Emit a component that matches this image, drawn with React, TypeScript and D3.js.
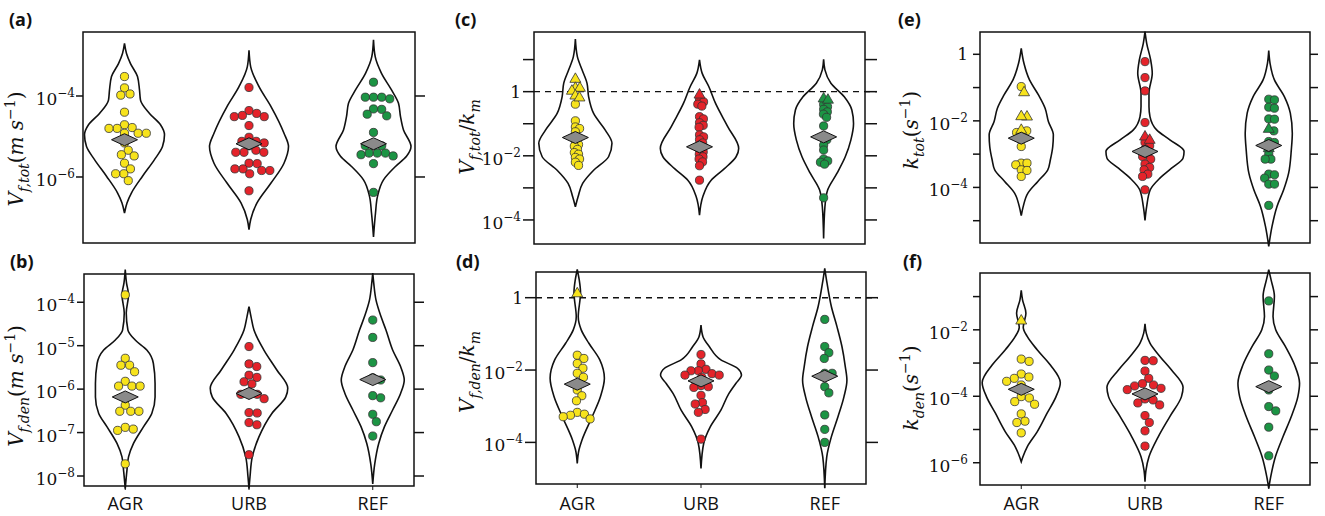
import React from 'react';
import * as d3 from 'd3';

// ---------------- data (all values are log10 of the plotted quantity) ----------------
const categories = ['AGR', 'URB', 'REF'];
const groupColors = ['#f7e31c', '#e4232a', '#1c9444'];

// panel (a) V_f,tot
const aCircles = [
  [-3.52, -3.80, -3.95, -3.98, -4.40, -4.71, -4.78, -4.80, -4.80, -4.92, -4.92, -4.92, -5.16, -5.34, -5.45, -5.48, -5.66, -5.80, -5.92, -5.92, -6.09],
  [-3.79, -4.36, -4.43, -4.48, -4.51, -4.51, -4.73, -5.02, -5.12, -5.12, -5.16, -5.23, -5.34, -5.39, -5.39, -5.39, -5.66, -5.67, -5.80, -5.80, -5.84, -5.84, -5.92, -6.34],
  [-3.66, -4.03, -4.03, -4.03, -4.07, -4.32, -4.33, -4.45, -4.49, -4.90, -5.23, -5.23, -5.23, -5.41, -5.41, -5.41, -5.45, -5.48, -5.67, -6.38],
];
const aTriangles = [[], [], []];
const aCenters = [-5.08, -5.18, -5.18];
const aViolinLevels = [
  [-2.70, -2.95, -3.20, -3.52, -3.85, -4.10, -4.43, -4.71, -4.96, -5.25, -5.57, -5.98, -6.39, -6.64, -6.89],
  [-2.87, -3.28, -3.77, -4.26, -4.92, -5.25, -5.66, -6.15, -6.64, -7.05, -7.30],
  [-2.61, -3.03, -3.44, -3.85, -4.18, -4.51, -4.84, -5.25, -5.49, -5.74, -6.07, -6.48, -6.89, -7.48],
];
const aViolinDensity = [
  [0, 2, 6, 13, 15, 16, 25, 36, 40, 38, 30, 18, 7, 2.5, 0],
  [0, 1.7, 10, 22, 35, 39.5, 35, 22, 8, 1.7, 0],
  [0, 1.7, 8, 18, 25, 27, 30, 37.5, 33, 22, 10, 4, 2, 0],
];

// panel (b) V_f,den
const bCircles = [
  [-3.83, -5.29, -5.45, -5.45, -5.60, -5.82, -5.93, -5.93, -5.93, -6.37, -6.51, -6.51, -6.51, -6.88, -6.92, -6.95, -7.72],
  [-5.02, -5.42, -5.48, -5.68, -5.73, -5.83, -5.88, -6.10, -6.12, -6.12, -6.22, -6.54, -6.55, -6.77, -6.82, -7.51],
  [-4.41, -4.81, -5.39, -5.74, -5.79, -6.15, -6.20, -6.58, -6.75, -7.08],
];
const bTriangles = [[], [], []];
const bCenters = [-6.18, -6.10, -5.78];
const bViolinLevels = [
  [-3.25, -3.56, -3.83, -4.25, -4.64, -4.87, -5.10, -5.41, -5.87, -6.18, -6.56, -6.87, -7.25, -7.56, -7.87, -8.29],
  [-4.10, -4.33, -4.64, -5.10, -5.56, -5.98, -6.18, -6.56, -7.10, -7.56, -8.02, -8.29],
  [-3.33, -3.56, -3.95, -4.33, -4.64, -5.10, -5.48, -5.79, -6.10, -6.48, -6.87, -7.25, -7.72, -8.18],
];
const bViolinDensity = [
  [0, 1.3, 3.3, 1, 2.7, 10, 21.7, 28.3, 30, 30, 26.7, 18.3, 8.3, 3.3, 1.7, 0],
  [0, 2, 5, 15, 28, 39, 37, 23, 10, 3.3, 1, 0],
  [0, 1, 3.3, 8.3, 13.3, 20, 28, 31.7, 28, 20, 11.7, 6, 2, 0],
];

// panel (c) V_f,tot / k_m
const cCircles = [
  [-0.39, -0.91, -1.10, -1.15, -1.25, -1.55, -1.65, -1.70, -1.80, -1.90, -1.95, -2.05, -2.10, -2.20, -2.30],
  [-0.26, -0.32, -0.39, -0.45, -0.78, -0.85, -0.97, -1.05, -1.11, -1.35, -1.41, -1.50, -1.60, -1.80, -1.88, -1.95, -2.03, -2.10, -2.19, -2.31, -2.76],
  [-0.40, -0.47, -0.55, -0.63, -0.70, -0.80, -1.07, -1.40, -1.50, -1.67, -1.82, -2.10, -2.16, -2.20, -2.26, -3.31],
];
const cTriangles = [[0.42, 0.14, 0.14, 0.05, -0.10, -0.16], [-0.07], [-0.19, -0.23]];
const cCenters = [-1.43, -1.72, -1.41];
const cViolinLevels = [
  [1.64, 1.09, 0.68, 0.26, -0.16, -0.68, -1.20, -1.61, -2.03, -2.45, -2.86, -3.28, -3.59],
  [0.99, 0.57, 0.16, -0.36, -1.09, -1.77, -2.03, -2.40, -2.76, -3.28, -3.85],
  [1.01, 0.68, 0.26, -0.16, -0.57, -0.99, -1.51, -2.03, -2.55, -3.07, -3.59, -4.58],
];
const cViolinDensity = [
  [0, 2, 6.7, 11.7, 13.3, 18.3, 30, 36.7, 33.3, 18.3, 7.3, 2.7, 0],
  [0, 2.7, 9.3, 16, 28.3, 39.3, 36.7, 25, 11.7, 3.3, 0],
  [0, 1.3, 7.3, 20.7, 28.3, 30, 27.3, 21.7, 13.3, 4, 1.3, 0],
];

// panel (d) V_f,den / k_m
const dCircles = [
  [-1.59, -1.68, -1.82, -1.95, -2.09, -2.20, -2.55, -2.71, -2.85, -3.17, -3.22, -3.25, -3.29, -3.35],
  [-1.57, -1.83, -1.98, -2.02, -2.02, -2.10, -2.14, -2.14, -2.20, -2.43, -2.46, -2.48, -2.70, -2.90, -2.94, -3.09, -3.17, -3.91],
  [-0.60, -1.35, -1.52, -1.68, -2.09, -2.09, -2.46, -2.63, -3.24, -3.64, -4.00],
];
const dTriangles = [[0.14], [], []];
const dCenters = [-2.39, -2.30, -2.17];
const dViolinLevels = [
  [0.78, 0.49, 0.14, -0.53, -0.89, -1.26, -1.72, -2.23, -2.74, -3.29, -3.94, -4.21, -4.58],
  [-0.76, -1.08, -1.35, -1.72, -1.95, -2.14, -2.37, -2.65, -3.11, -3.57, -4.03, -4.72],
  [0.81, 0.40, -0.25, -0.80, -1.35, -1.91, -2.28, -2.74, -3.29, -3.84, -4.40, -5.27],
];
const dViolinDensity = [
  [0, 2, 3.3, 1, 4, 11.7, 22.7, 27.3, 23.3, 15, 4.7, 1.7, 0],
  [0, 2, 8.3, 20, 36.7, 40.7, 35, 28, 20, 9.3, 2.7, 0],
  [0, 2.3, 6.7, 12.3, 17.3, 20.7, 22.3, 19.3, 13.3, 6.7, 2, 0],
];

// panel (e) k_tot
const eCircles = [
  [-0.97, -2.30, -2.35, -2.77, -3.27, -3.27, -3.32, -3.47, -3.49, -3.67],
  [-0.22, -0.70, -1.10, -2.05, -2.65, -2.75, -2.85, -3.00, -3.07, -3.15, -3.30, -3.40, -3.47, -3.60, -3.67, -4.07],
  [-1.35, -1.37, -1.59, -1.62, -1.94, -1.95, -2.30, -2.62, -2.65, -2.99, -3.15, -3.15, -3.60, -3.62, -3.72, -3.90, -3.90, -4.54],
];
const eTriangles = [[-1.12, -1.85, -1.84, -2.25], [-2.45, -2.55], [-2.22, -2.80]];
const eCenters = [-2.52, -2.92, -2.74];
const eViolinLevels = [
  [0.18, -0.27, -0.77, -1.22, -1.62, -2.02, -2.42, -2.77, -3.17, -3.47, -3.82, -4.17, -4.57, -4.85],
  [0.68, 0.33, -0.17, -0.57, -1.17, -1.57, -1.87, -2.27, -2.57, -2.92, -3.12, -3.42, -3.72, -4.07, -4.57, -4.99],
  [0.11, -0.27, -0.77, -1.27, -1.77, -2.37, -2.87, -3.57, -4.07, -4.57, -5.17, -5.77],
];
const eViolinDensity = [
  [0, 2.7, 8.3, 17.3, 24, 27.3, 32.3, 31.7, 29.3, 26.7, 16.7, 6.7, 2, 0],
  [0, 1.7, 5.7, 7.3, 4, 4, 5, 11.7, 25, 39.3, 38.3, 26.7, 15, 5.3, 1.7, 0],
  [0, 1.3, 5.7, 15.7, 21.7, 23.7, 22.7, 20, 15, 8.3, 3.3, 0],
];

// panel (f) k_den
const fCircles = [
  [-2.88, -2.95, -3.33, -3.42, -3.46, -3.55, -3.66, -4.01, -4.05, -4.16, -4.24, -4.53, -4.75, -4.79, -5.10],
  [-2.92, -2.93, -3.24, -3.46, -3.62, -3.66, -3.69, -3.76, -3.80, -4.08, -4.11, -4.20, -4.26, -4.58, -4.79, -5.04, -5.50],
  [-1.13, -2.72, -3.21, -3.39, -3.81, -4.31, -4.44, -4.93, -5.79],
];
const fTriangles = [[-1.70], [], []];
const fCenters = [-3.79, -3.93, -3.71];
const fViolinLevels = [
  [-0.81, -1.10, -1.50, -1.92, -2.20, -2.60, -3.06, -3.59, -4.01, -4.51, -5.07, -5.52, -5.82, -5.97],
  [-1.82, -2.10, -2.40, -2.80, -3.21, -3.73, -4.01, -4.61, -5.22, -5.82, -6.22, -6.57],
  [-0.19, -0.49, -0.99, -1.60, -2.00, -2.50, -3.06, -3.61, -4.01, -4.61, -5.22, -5.82, -6.42, -6.77],
];
const fViolinDensity = [
  [0, 1.3, 4.7, 2, 6, 16, 29.3, 39.3, 35, 26, 16, 6, 1.7, 0],
  [0, 1.3, 5, 15, 26.7, 38.3, 36.7, 25, 13.3, 4, 1, 0],
  [0, 2.3, 5.7, 4.3, 7, 16.7, 26, 31, 29.3, 22.7, 14.3, 6.7, 2, 0],
];

// tick exponents
const aLabeled = [-4, -6];
const aTicks = [-4, -6];
const bLabeled = [-4, -5, -6, -7, -8];
const bTicks = [-4, -5, -6, -7, -8];
const cLabeled = [0, -2, -4];
const cTicks = [1, 0, -1, -2, -3, -4];
const dLabeled = [0, -2, -4];
const dTicks = [0, -2, -4];
const eLabeled = [0, -2, -4];
const eTicks = [0, -1, -2, -3, -4, -5];
const fLabeled = [-2, -4, -6];
const fTicks = [-1, -2, -3, -4, -5, -6];

// y-axis labels: [text, italic, position]
type Seg = [string, boolean, 'b' | 'sub' | 'sup'];
const aLabel: Seg[] = [['V', true, 'b'], ['f,tot', true, 'sub'], ['(', false, 'b'], ['m', true, 'b'], [' ', false, 'b'], ['s', true, 'b'], ['−1', false, 'sup'], [')', false, 'b']];
const bLabel: Seg[] = [['V', true, 'b'], ['f,den', true, 'sub'], ['(', false, 'b'], ['m', true, 'b'], [' ', false, 'b'], ['s', true, 'b'], ['−1', false, 'sup'], [')', false, 'b']];
const cLabel: Seg[] = [['V', true, 'b'], ['f,tot', true, 'sub'], ['/', false, 'b'], ['k', true, 'b'], ['m', true, 'sub']];
const dLabel: Seg[] = [['V', true, 'b'], ['f,den', true, 'sub'], ['/', false, 'b'], ['k', true, 'b'], ['m', true, 'sub']];
const eLabel: Seg[] = [['k', true, 'b'], ['tot', true, 'sub'], ['(', false, 'b'], ['s', true, 'b'], ['−1', false, 'sup'], [')', false, 'b']];
const fLabel: Seg[] = [['k', true, 'b'], ['den', true, 'sub'], ['(', false, 'b'], ['s', true, 'b'], ['−1', false, 'sup'], [')', false, 'b']];

// ---------------- layout ----------------
const panels = [
  { tag: '(a)', circles: aCircles, triangles: aTriangles, centers: aCenters, vl: aViolinLevels, vd: aViolinDensity, labeled: aLabeled, ticks: aTicks, label: aLabel,
    box: [83, 415, 32, 243], dom: [-7.63, -2.42], tickEnd: 75, lt: 7, rt: 10, lab: [23, 149], tagPos: [9, 26], swarm: 1, dashed: false, xlab: false },
  { tag: '(b)', circles: bCircles, triangles: bTriangles, centers: bCenters, vl: bViolinLevels, vd: bViolinDensity, labeled: bLabeled, ticks: bTicks, label: bLabel,
    box: [84, 414, 274, 486], dom: [-8.23, -3.35], tickEnd: 75, lt: 7, rt: 10, lab: [23, 386], tagPos: [10, 268], swarm: 1, dashed: false, xlab: true },
  { tag: '(c)', circles: cCircles, triangles: cTriangles, centers: cCenters, vl: cViolinLevels, vd: cViolinDensity, labeled: cLabeled, ticks: cTicks, label: cLabel,
    box: [534, 865, 32, 244], dom: [-4.75, 1.86], tickEnd: 521, lt: 11, rt: 12, lab: [474, 137], tagPos: [455, 26], swarm: 0.55, dashed: true, xlab: false },
  { tag: '(d)', circles: dCircles, triangles: dTriangles, centers: dCenters, vl: dViolinLevels, vd: dViolinDensity, labeled: dLabeled, ticks: dTicks, label: dLabel,
    box: [536, 866, 272, 484], dom: [-5.15, 0.71], tickEnd: 523, lt: 11, rt: 12, lab: [474, 372], tagPos: [456, 268], swarm: 0.9, dashed: true, xlab: true },
  { tag: '(e)', circles: eCircles, triangles: eTriangles, centers: eCenters, vl: eViolinLevels, vd: eViolinDensity, labeled: eLabeled, ticks: eTicks, label: eLabel,
    box: [980, 1310, 32, 243], dom: [-5.67, 0.67], tickEnd: 968, lt: 7, rt: 8, lab: [918, 130], tagPos: [898, 26], swarm: 0.7, dashed: false, xlab: false },
  { tag: '(f)', circles: fCircles, triangles: fTriangles, centers: fCenters, vl: fViolinLevels, vd: fViolinDensity, labeled: fLabeled, ticks: fTicks, label: fLabel,
    box: [980, 1310, 273, 485], dom: [-6.67, -0.29], tickEnd: 968, lt: 7, rt: 8, lab: [918, 388], tagPos: [903, 268], swarm: 1, dashed: false, xlab: true },
];

const R = 4.1;
const XLABEL_BASELINE = 510;
const SERIF = "'DejaVu Serif', 'Liberation Serif', serif";
const SANS = "'Open Sans', 'Liberation Sans', sans-serif";

function swarmOffsets(ys: number[], diam: number): number[] {
  const order = ys.map((_, i) => i).sort((a, b) => ys[a] - ys[b]);
  const placed: { x: number; y: number }[] = [];
  const out = new Array(ys.length).fill(0);
  for (const i of order) {
    const y = ys[i];
    const near = placed.filter((p) => Math.abs(p.y - y) < diam);
    const cands = [0];
    for (const p of near) {
      const dx = Math.sqrt(diam * diam - (p.y - y) ** 2);
      cands.push(p.x + dx, p.x - dx);
    }
    cands.sort((a, b) => Math.abs(a) - Math.abs(b));
    let x = 0;
    for (const c of cands) {
      if (near.every((p) => (p.x - c) ** 2 + (p.y - y) ** 2 >= diam * diam - 0.01)) { x = c; break; }
    }
    placed.push({ x, y });
    out[i] = x;
  }
  return out;
}

function Pow({ e, x, y, anchor }: { e: number; x: number; y: number; anchor: string }) {
  if (e === 0) {
    return <text x={x} y={y + 6} textAnchor={anchor as any} fontFamily={SERIF} fontSize={17} fill="#111">1</text>;
  }
  return (
    <text x={x} y={y + 9} textAnchor={anchor as any} fontFamily={SERIF} fontSize={17} fill="#111">
      10<tspan dy={-8} fontSize={12}>{'−' + Math.abs(e)}</tspan>
    </text>
  );
}

function MathLabel({ segs, x, y }: { segs: Seg[]; x: number; y: number }) {
  let cur = 0;
  const parts = segs.map((s, i) => {
    const target = s[2] === 'sub' ? 6 : s[2] === 'sup' ? -8 : 0;
    const dy = target - cur;
    cur = target;
    return (
      <tspan key={i} dy={dy} fontStyle={s[1] ? 'italic' : 'normal'} fontSize={s[2] === 'b' ? 20 : 14}>
        {s[0]}
      </tspan>
    );
  });
  return (
    <text transform={`translate(${x},${y}) rotate(-90)`} textAnchor="middle" fontFamily={SERIF} fill="#111" style={{ whiteSpace: 'pre' }}>
      {parts}
    </text>
  );
}

function Panel({ p }: { p: (typeof panels)[number] }) {
  const [L, Rt, T, B] = p.box;
  const xs = d3.scalePoint<string>().domain(categories).range([L, Rt]).padding(1 / 3);
  const y = d3.scaleLog().domain([10 ** p.dom[0], 10 ** p.dom[1]]).range([B, T]);
  const Y = (v: number) => y(10 ** v);
  const step = xs.step();
  const w = d3.scaleLinear().domain([0, 40]).range([0, (40 * step) / 124.5]);
  const tri = d3.symbol().type(d3.symbolTriangle).size(52)()!;

  return (
    <g>
      {/* violins */}
      {categories.map((c, gi) => {
        const cx = xs(c)!;
        const pts = p.vl[gi].map((lv, k) => ({ lv, d: p.vd[gi][k] }));
        const area = d3
          .area<{ lv: number; d: number }>()
          .y((d) => Y(d.lv))
          .x0((d) => cx - w(d.d))
          .x1((d) => cx + w(d.d))
          .curve(d3.curveMonotoneY);
        return <path key={'v' + c} d={area(pts)!} fill="none" stroke="#111" strokeWidth={1.6} />;
      })}
      {/* dashed reference line */}
      {p.dashed && <line x1={L} x2={Rt + p.rt} y1={Y(0)} y2={Y(0)} stroke="#111" strokeWidth={1.4} strokeDasharray="6,5" />}
      {/* points */}
      {categories.map((c, gi) => {
        const cx = xs(c)!;
        const all = [
          ...p.circles[gi].map((v) => ({ v, t: false })),
          ...p.triangles[gi].map((v) => ({ v, t: true })),
        ];
        const ys = all.map((d) => Y(d.v));
        const offs = swarmOffsets(ys, 2 * R * p.swarm);
        return (
          <g key={'p' + c}>
            {all.map((d, k) =>
              d.t ? (
                <path key={k} d={tri} transform={`translate(${cx + offs[k]},${ys[k] + 1})`} fill={groupColors[gi]} stroke="#333" strokeWidth={0.8} />
              ) : (
                <circle key={k} cx={cx + offs[k]} cy={ys[k]} r={R} fill={groupColors[gi]} stroke="#333" strokeWidth={0.8} />
              )
            )}
          </g>
        );
      })}
      {/* centre diamonds */}
      {categories.map((c, gi) => {
        const cx = xs(c)!;
        const cy = Y(p.centers[gi]);
        return (
          <path key={'m' + c} d={`M${cx - 13},${cy}L${cx},${cy - 6}L${cx + 13},${cy}L${cx},${cy + 6}Z`} fill="#8a8a8a" stroke="#111" strokeWidth={1} />
        );
      })}
      {/* frame */}
      <rect x={L} y={T} width={Rt - L} height={B - T} fill="none" stroke="#111" strokeWidth={1.5} />
      {/* ticks */}
      {p.ticks.map((e) => (
        <g key={'t' + e}>
          <line x1={Rt} x2={Rt + p.rt} y1={Y(e)} y2={Y(e)} stroke="#111" strokeWidth={1.5} />
          <line x1={L - p.lt} x2={L} y1={Y(e)} y2={Y(e)} stroke="#111" strokeWidth={1.5} />
        </g>
      ))}
      {p.labeled.map((e) => (
        <Pow key={'l' + e} e={e} x={p.tickEnd} y={Y(e)} anchor="end" />
      ))}
      <MathLabel segs={p.label} x={p.lab[0]} y={p.lab[1]} />
      <text x={p.tagPos[0]} y={p.tagPos[1]} fontFamily={SANS} fontWeight={700} fontSize={18} fill="#111">
        {p.tag}
      </text>
      {p.xlab &&
        categories.map((c) => (
          <g key={'x' + c}>
            <line x1={xs(c)!} x2={xs(c)!} y1={B} y2={B + 4} stroke="#111" strokeWidth={1} />
            <text x={xs(c)!} y={XLABEL_BASELINE} textAnchor="middle" fontFamily={SANS} fontSize={18} fill="#111">
              {c}
            </text>
          </g>
        ))}
    </g>
  );
}

export default function App() {
  return (
    <svg width={1325} height={516} style={{ position: 'absolute', left: 0, top: 0, background: '#fff' }}>
      <rect width={1325} height={516} fill="#fff" />
      {panels.map((p) => (
        <Panel key={p.tag} p={p} />
      ))}
    </svg>
  );
}
